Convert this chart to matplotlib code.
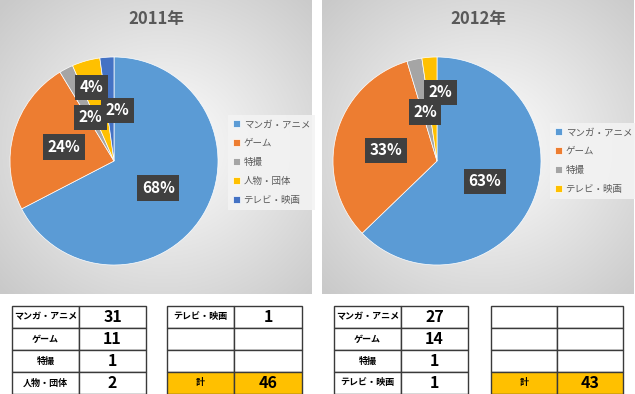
import numpy as np
import matplotlib
matplotlib.use("Agg")
import matplotlib.pyplot as plt
from matplotlib.patches import Rectangle

plt.rcParams['font.family'] = ['Noto Sans CJK JP', 'DejaVu Sans']

# ---------------- data ----------------
years = ["2011年", "2012年"]
cats_2011 = ["マンガ・アニメ", "ゲーム", "特撮", "人物・団体", "テレビ・映画"]
vals_2011 = [31, 11, 1, 2, 1]
pct_2011 = [68, 24, 2, 4, 2]
cats_2012 = ["マンガ・アニメ", "ゲーム", "特撮", "テレビ・映画"]
vals_2012 = [27, 14, 1, 1]
pct_2012 = [63, 33, 2, 2]
total_label = "計"

color_map = {"マンガ・アニメ": "#5B9BD5", "ゲーム": "#ED7D31", "特撮": "#A5A5A5",
             "人物・団体": "#FFC000", "テレビ・映画": "#4472C4"}
colors_2012 = ["#5B9BD5", "#ED7D31", "#A5A5A5", "#FFC000"]

# ---------------- layout ----------------
W, H = 635, 394
fig = plt.figure(figsize=(W / 100, H / 100), dpi=100)
fig.patch.set_facecolor("white")


def fax(x0, y0, x1, y1, **kw):
    return fig.add_axes([x0 / W, 1 - y1 / H, (x1 - x0) / W, (y1 - y0) / H], **kw)


def panel_bg(x0, y0, x1, y1):
    ax = fax(x0, y0, x1, y1)
    w, h = int(x1 - x0), int(y1 - y0)
    yy, xx = np.mgrid[0:h, 0:w]
    cx, cy = w * 0.52, h * 0.5
    t = np.sqrt(((xx - cx) / (w * 0.5)) ** 2 + ((yy - cy) / (h * 0.5)) ** 2) / np.sqrt(2)
    t = np.clip(t, 0, 1)
    v = 1.0 - 0.21 * t ** 1.0
    img = np.dstack([v, v, v])
    ax.imshow(img, aspect="auto", interpolation="bilinear")
    ax.set_axis_off()
    return ax


panels = [(0, 0, 312, 294), (322, 0, 634, 294)]
for p in panels:
    panel_bg(*p)

pie_specs = [
    dict(center=(114, 161), r=104, cats=cats_2011, vals=vals_2011, pct=pct_2011,
         colors=[color_map[c] for c in cats_2011],
         dist=[0.5, 0.5, 0.48, 0.74, 0.49], dang=[0, 0, 1, 1, -8],
         leg=(228, 115)),
    dict(center=(437, 161), r=104, cats=cats_2012, vals=vals_2012, pct=pct_2012,
         colors=colors_2012,
         dist=[0.5, 0.5, 0.485, 0.66], dang=[0, 3, 1.2, -7],
         leg=(550, 123)),
]

for i, spec in enumerate(pie_specs):
    cx, cy = spec["center"]
    r = spec["r"]
    ax = fax(cx - r, cy - r, cx + r, cy + r)
    ax.patch.set_alpha(0)
    wedges, _ = ax.pie(spec["vals"], colors=spec["colors"], startangle=90,
                       counterclock=False, radius=1,
                       wedgeprops=dict(edgecolor="white", linewidth=0.5))
    ax.set_xlim(-1, 1)
    ax.set_ylim(-1, 1)
    ax.set_aspect("equal")
    ax.set_axis_off()
    for j, w in enumerate(wedges):
        mid = np.deg2rad((w.theta1 + w.theta2) / 2 + spec["dang"][j])
        d = spec["dist"][j]
        ax.text(d * np.cos(mid), d * np.sin(mid), f"{spec['pct'][j]}%",
                ha="center", va="center", color="white", fontsize=11,
                fontweight="bold", zorder=5 + j,
                bbox=dict(boxstyle="square,pad=0.3", facecolor="#404040",
                          edgecolor="none"))
    # title
    px0, _, px1, _ = panels[i]
    fig.text(((px0 + px1) / 2) / W, 1 - 19 / H, years[i], ha="center", va="center",
             fontsize=12, fontweight="bold", color="#595959")
    lx, ly = spec["leg"]
    leg = ax.legend(wedges, spec["cats"], loc="upper left",
                    bbox_to_anchor=(lx / W, 1 - ly / H), bbox_transform=fig.transFigure,
                    borderaxespad=0, frameon=True, fancybox=False, fontsize=6.8,
                    handlelength=0.75, handleheight=0.75, handletextpad=0.35,
                    labelspacing=1.05, borderpad=0.55)
    leg.get_frame().set_facecolor("#f3f3f3")
    leg.get_frame().set_edgecolor("none")
    leg.get_frame().set_alpha(0.9)
    for t in leg.get_texts():
        t.set_color("#595959")

# ---------------- tables ----------------
ov = fax(0, 0, W, H)
ov.set_xlim(0, W)
ov.set_ylim(H, 0)
ov.set_axis_off()
ov.patch.set_alpha(0)

row_top, row_h = 306, 22
tables = [
    (12, 79, 146, [(cats_2011[k], str(vals_2011[k])) for k in range(4)], False),
    (167, 234, 302, [(cats_2011[4], str(vals_2011[4])), ("", ""), ("", ""),
                     (total_label, str(sum(vals_2011)))], True),
    (334, 401, 468, [(cats_2012[k], str(vals_2012[k])) for k in range(4)], False),
    (491, 557, 623, [("", ""), ("", ""), ("", ""),
                     (total_label, str(sum(vals_2012)))], True),
]
for x0, xm, x1, rows, has_total in tables:
    for k, (lab, num) in enumerate(rows):
        y = row_top + k * row_h
        fc = "#FFC000" if (has_total and k == len(rows) - 1) else "white"
        ov.add_patch(Rectangle((x0, y), xm - x0, row_h, facecolor=fc,
                               edgecolor="#3a3a3a", linewidth=1.0, clip_on=False))
        ov.add_patch(Rectangle((xm, y), x1 - xm, row_h, facecolor=fc,
                               edgecolor="#3a3a3a", linewidth=1.0, clip_on=False))
        if lab:
            ov.text((x0 + xm) / 2, y + row_h / 2, lab, ha="center", va="center",
                    fontsize=6.5, fontweight="bold", color="black")
        if num:
            ov.text((xm + x1) / 2, y + row_h / 2, num, ha="center", va="center",
                    fontsize=11.5, fontweight="bold", color="black")

fig.savefig("out.png", dpi=100, facecolor="white")
